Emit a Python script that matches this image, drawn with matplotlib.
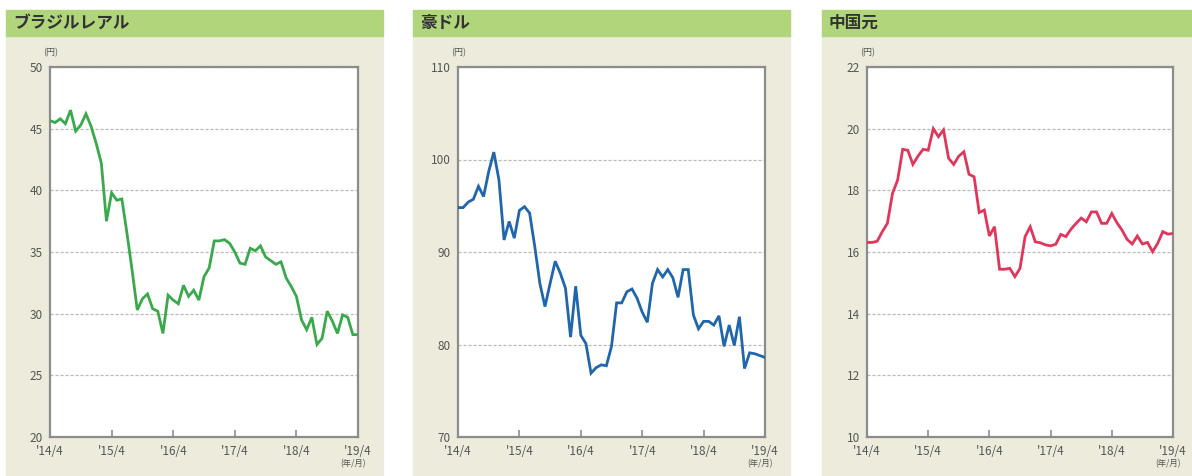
import numpy as np
import matplotlib.pyplot as plt
from matplotlib.patches import Rectangle

plt.rcParams['font.family'] = ['Noto Sans CJK JP', 'DejaVu Sans']

W, H = 1192, 476

# monthly data, 2014/4 .. 2019/4 (61 points)
months = np.arange(61)
tick_pos = [0, 12, 24, 36, 48, 60]
tick_labels = ["'14/4", "'15/4", "'16/4", "'17/4", "'18/4", "'19/4"]

brl = [45.65, 45.5, 45.8, 45.4, 46.5, 44.8, 45.3, 46.2, 45.2, 43.8,
       42.2, 37.5, 39.8, 39.2, 39.3, 36.5, 33.5, 30.3, 31.2, 31.6,
       30.4, 30.2, 28.4, 31.5, 31.1, 30.8, 32.3, 31.4, 31.9, 31.1,
       33.0, 33.7, 35.9, 35.9, 36.0, 35.7, 35.0, 34.1, 34.0, 35.3,
       35.1, 35.5, 34.6, 34.3, 34.0, 34.2, 32.9, 32.2, 31.4, 29.5,
       28.7, 29.7, 27.5, 28.0, 30.2, 29.4, 28.4, 29.9, 29.7, 28.3,
       28.3]

aud = [94.8, 94.8, 95.4, 95.7, 97.1, 96.0, 98.7, 100.8, 97.8, 91.3,
       93.3, 91.5, 94.5, 94.9, 94.2, 90.6, 86.6, 84.1, 86.6, 89.0,
       87.7, 86.1, 80.8, 86.3, 81.0, 80.1, 76.9, 77.5, 77.8, 77.7,
       79.8, 84.5, 84.5, 85.7, 86.0, 85.0, 83.5, 82.4, 86.6, 88.1,
       87.3, 88.1, 87.2, 85.1, 88.1, 88.1, 83.2, 81.7, 82.5, 82.5,
       82.1, 83.1, 79.8, 82.1, 79.9, 83.0, 77.4, 79.1, 79.0, 78.8,
       78.6]

cny = [16.31, 16.31, 16.35, 16.66, 16.93, 17.9, 18.33, 19.33, 19.3, 18.84,
       19.11, 19.33, 19.3, 20.0, 19.74, 19.96, 19.04, 18.84, 19.11, 19.25,
       18.52, 18.44, 17.28, 17.36, 16.52, 16.82, 15.44, 15.44, 15.47, 15.2,
       15.47, 16.5, 16.82, 16.33, 16.3, 16.23, 16.2, 16.25, 16.57, 16.5,
       16.74, 16.93, 17.1, 16.98, 17.3, 17.3, 16.93, 16.93, 17.25, 16.95,
       16.71, 16.41, 16.26, 16.52, 16.26, 16.31, 16.01, 16.28, 16.66, 16.58,
       16.6]

titles = ['ブラジルレアル', '豪ドル', '中国元']
series = [brl, aud, cny]
colors = ['#3aa94b', '#1f66ad', '#e0365c']
yticks_list = [[20, 25, 30, 35, 40, 45, 50],
               [70, 80, 90, 100, 110],
               [10, 12, 14, 16, 18, 20, 22]]

panels_px = [(6, 383), (413, 790), (822, 1192)]
axes_px = [(50, 358), (458, 765), (867, 1173)]
ax_top, ax_bot = 67, 437

fig = plt.figure(figsize=(W / 100, H / 100), dpi=100)


def fx(x):
    return x / W


def fy(y):
    return 1 - y / H


for title, vals, col, yt, (p0, p1), (a0, a1) in zip(titles, series, colors, yticks_list, panels_px, axes_px):
    # panel background and header bar
    fig.patches.append(Rectangle((fx(p0), fy(476)), fx(p1 - p0), (476 - 36) / H,
                                 transform=fig.transFigure, color='#edebdb', zorder=-2))
    fig.patches.append(Rectangle((fx(p0), fy(36)), fx(p1 - p0), 26 / H,
                                 transform=fig.transFigure, color='#b0d57a', zorder=-2))
    fig.text(fx(p0 + 7), fy(23), title, fontsize=12, fontweight='bold',
             color='#333333', va='center', ha='left')

    ax = fig.add_axes([fx(a0), fy(ax_bot), fx(a1 - a0), (ax_bot - ax_top) / H])
    ax.set_facecolor('white')
    ax.plot(months, vals, color=col, lw=2.0, solid_joinstyle='miter', zorder=3)
    ax.set_xlim(0, 60)
    ax.set_ylim(yt[0], yt[-1])
    ax.set_yticks(yt)
    ax.set_yticklabels([str(v) for v in yt])
    ax.set_xticks(tick_pos)
    ax.set_xticklabels(tick_labels)
    ax.yaxis.grid(True, linestyle=(0, (2.5, 1.5)), color='#bbbbbb', lw=0.9)
    ax.set_axisbelow(True)
    ax.tick_params(axis='y', length=0, pad=5, labelsize=8.5, labelcolor='#555555')
    ax.tick_params(axis='x', direction='in', length=5, width=1.2, color='#8c8c8c',
                   pad=6, labelsize=8.5, labelcolor='#555555')
    for s in ax.spines.values():
        s.set_color('#8c8c8c')
        s.set_linewidth(1.6)

    fig.text(fx(a0 + 1), fy(53), '(円)', fontsize=6.5, color='#555555', ha='center', va='center')
    fig.text(fx(a1 - 5), fy(464), '(年/月)', fontsize=6, color='#555555', ha='center', va='center')

fig.savefig('out.png', dpi=100, facecolor='white')
